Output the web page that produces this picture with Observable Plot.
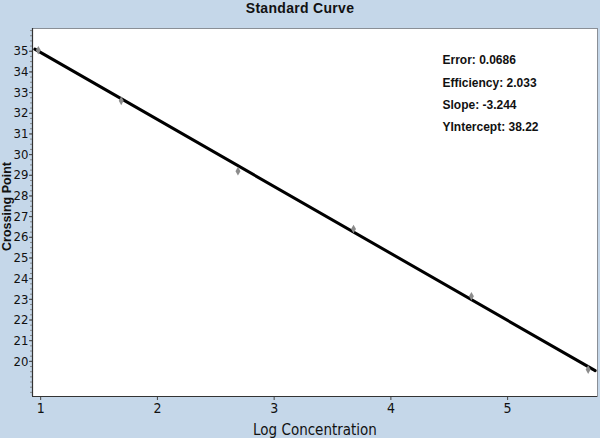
<!DOCTYPE html>
<html>
<head>
<meta charset="utf-8">
<script src="https://cdn.jsdelivr.net/npm/d3@7"></script>
<script src="https://cdn.jsdelivr.net/npm/@observablehq/plot@0.6"></script>
<style>
  html, body { margin: 0; padding: 0; background: #c5d7e9; width: 600px; height: 438px; overflow: hidden; }
  #title { height: 22px; line-height: 22px; text-align: center; font: bold 14px "Liberation Sans", Arial, sans-serif; letter-spacing: 0.3px; color: #111; }
  #chart svg { display: block; }
</style>
</head>
<body>
<div id="title">Standard Curve</div>
<div id="chart"></div>
<script>
// Measured standards (log concentration vs crossing point)
const logConc = [0.98, 1.69, 2.69, 3.68, 4.69, 5.69];
const crossingPoint = [35.05, 32.6, 29.2, 26.4, 23.15, 19.6];
// Fitted line end points
const fitX = [0.95, 5.75];
const fitY = [35.1, 19.55];
// Axis ticks
const xTicks = [1, 2, 3, 4, 5];
const yTicks = [20, 21, 22, 23, 24, 25, 26, 27, 28, 29, 30, 31, 32, 33, 34, 35];
const yMinor = d3.range(18.5, 36.01, 0.25);
// Fit statistics
const stats = ["Error: 0.0686", "Efficiency: 2.033", "Slope: -3.244", "YIntercept: 38.22"];

const points = logConc.map((x, i) => ({x, y: crossingPoint[i]}));
const fit = fitX.map((x, i) => ({x, y: fitY[i]}));

const narrow = '"Liberation Sans Narrow", "DejaVu Sans Condensed", "Liberation Sans", sans-serif';

const chart = Plot.plot({
  width: 600,
  height: 416,
  marginTop: 6,
  marginBottom: 42,
  marginLeft: 32,
  marginRight: 3,
  style: {background: "transparent", fontFamily: narrow, fontSize: "14px", color: "#111"},
  x: {domain: [0.93, 5.77]},
  y: {domain: [18.3, 36.1]},
  marks: [
    Plot.frame({fill: "white", stroke: "#8a8f96"}),
    Plot.axisY(yMinor, {tickSize: 2, text: null, label: null, stroke: "#777", strokeWidth: 0.8}),
    Plot.axisY(yTicks, {tickSize: 3, tickPadding: 1, fontSize: 13, fontFamily: narrow, label: null, stroke: "#444", tickFormat: "d"}),
    Plot.axisX(xTicks, {tickSize: 4, tickPadding: 3, fontSize: 14, fontFamily: narrow, label: null, stroke: "#444", tickFormat: "d"}),
    Plot.ruleX([0.93], {stroke: "#333", strokeWidth: 1.2}),
    Plot.ruleY([18.3], {stroke: "#333", strokeWidth: 1.2}),
    Plot.line(fit, {x: "x", y: "y", stroke: "black", strokeWidth: 3}),
    Plot.dot(points, {x: "x", y: "y", symbol: "diamond", r: 2.6, fill: "#8c8c8c", stroke: "none"}),
    Plot.text([stats.join("\n")], {frameAnchor: "top-left", dx: 410, dy: 20, textAnchor: "start", lineAnchor: "top", lineHeight: 1.86, fontSize: 12, fontWeight: "bold", fontFamily: '"Liberation Sans", Arial, sans-serif', fill: "#111"}),
    Plot.text(["Log Concentration"], {frameAnchor: "bottom", dy: 38, fontSize: 15, fontFamily: narrow, fill: "#111"}),
    Plot.text(["Crossing Point"], {frameAnchor: "left", textAnchor: "middle", lineAnchor: "middle", dx: -26, dy: -6, rotate: -90, fontSize: 12.5, fontWeight: "bold", fontFamily: '"Liberation Sans", Arial, sans-serif', fill: "#111"})
  ]
});
document.getElementById("chart").appendChild(chart);
</script>
</body>
</html>
